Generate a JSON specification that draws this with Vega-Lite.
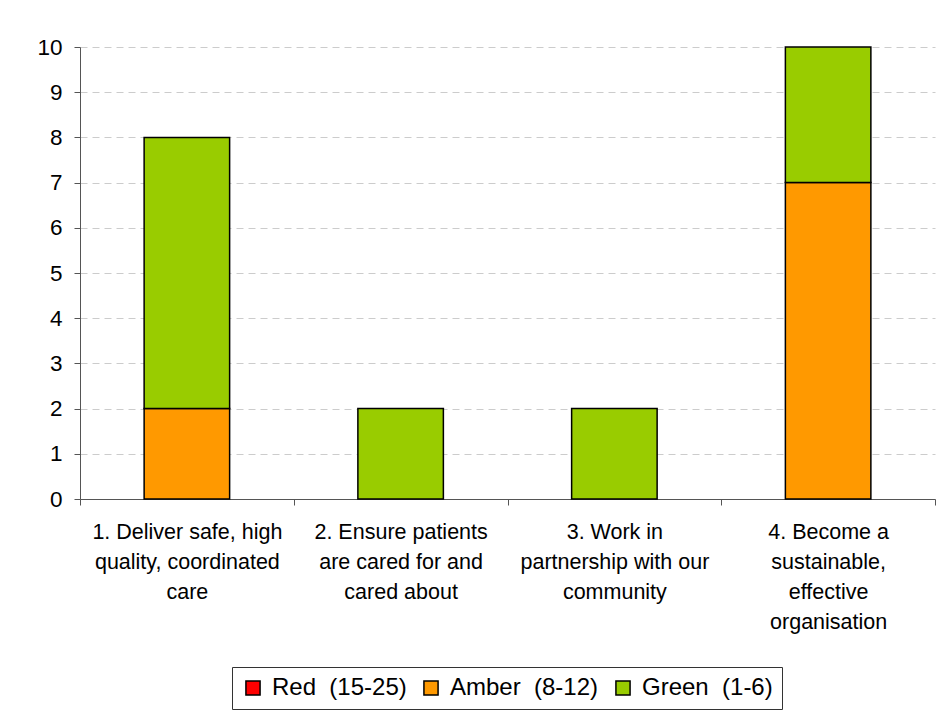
{
  "$schema": "https://vega.github.io/schema/vega-lite/v6.json",
  "width": 855,
  "height": 452,
  "autosize": {"type": "none"},
  "padding": {"left": 80, "top": 47, "right": 14, "bottom": 220},
  "background": "white",
  "config": {
    "font": "Liberation Sans",
    "view": {"stroke": null}
  },
  "data": {
    "values": [
      {"key": "1", "rating": "Red\u00a0\u00a0(15-25)", "ord": 0, "count": 0},
      {"key": "1", "rating": "Amber\u00a0\u00a0(8-12)", "ord": 1, "count": 2},
      {"key": "1", "rating": "Green\u00a0\u00a0(1-6)", "ord": 2, "count": 6},
      {"key": "2", "rating": "Red\u00a0\u00a0(15-25)", "ord": 0, "count": 0},
      {"key": "2", "rating": "Amber\u00a0\u00a0(8-12)", "ord": 1, "count": 0},
      {"key": "2", "rating": "Green\u00a0\u00a0(1-6)", "ord": 2, "count": 2},
      {"key": "3", "rating": "Red\u00a0\u00a0(15-25)", "ord": 0, "count": 0},
      {"key": "3", "rating": "Amber\u00a0\u00a0(8-12)", "ord": 1, "count": 0},
      {"key": "3", "rating": "Green\u00a0\u00a0(1-6)", "ord": 2, "count": 2},
      {"key": "4", "rating": "Red\u00a0\u00a0(15-25)", "ord": 0, "count": 0},
      {"key": "4", "rating": "Amber\u00a0\u00a0(8-12)", "ord": 1, "count": 7},
      {"key": "4", "rating": "Green\u00a0\u00a0(1-6)", "ord": 2, "count": 3}
    ]
  },
  "transform": [{"filter": "datum.count > 0"}],
  "mark": {"type": "bar", "width": {"band": 0.4}, "stroke": "black", "strokeWidth": 1.5},
  "encoding": {
    "x": {
      "field": "key",
      "type": "nominal",
      "scale": {"paddingInner": 0, "paddingOuter": 0},
      "axis": {
        "title": null,
        "labelAngle": 0,
        "labelExpr": "datum.value == '1' ? ['1. Deliver safe, high', 'quality, coordinated', 'care'] : datum.value == '2' ? ['2. Ensure patients', 'are cared for and', 'cared about'] : datum.value == '3' ? ['3. Work in', 'partnership with our', 'community'] : datum.value == '4' ? ['4. Become a', 'sustainable,', 'effective', 'organisation'] : ''",
        "labelFontSize": 21.5,
        "labelColor": "black",
        "labelLineHeight": 30,
        "labelPadding": 16,
        "labelBaseline": "top",
        "labelLimit": 300,
        "tickBand": "extent",
        "ticks": true,
        "tickSize": 6,
        "tickColor": "#555",
        "domainColor": "#555",
        "domainWidth": 1,
        "grid": false
      }
    },
    "y": {
      "field": "count",
      "type": "quantitative",
      "stack": "zero",
      "scale": {"domain": [0, 10], "nice": false},
      "axis": {
        "title": null,
        "values": [0, 1, 2, 3, 4, 5, 6, 7, 8, 9, 10],
        "labelFontSize": 22.5,
        "labelColor": "black",
        "labelPadding": 12,
        "tickSize": 6,
        "tickColor": "#555",
        "domainColor": "#555",
        "grid": true,
        "gridColor": "#cccccc",
        "gridDash": [7, 5],
        "gridWidth": 1
      }
    },
    "color": {
      "field": "rating",
      "type": "nominal",
      "scale": {
        "domain": ["Red\u00a0\u00a0(15-25)", "Amber\u00a0\u00a0(8-12)", "Green\u00a0\u00a0(1-6)"],
        "range": ["#FF0000", "#FF9900", "#99CC00"]
      },
      "legend": {
        "title": null,
        "orient": "none",
        "direction": "horizontal",
        "legendX": 152,
        "legendY": 620,
        "symbolType": "square",
        "symbolSize": 200,
        "symbolStrokeColor": "black",
        "symbolStrokeWidth": 1.5,
        "symbolOpacity": 1,
        "labelFontSize": 24,
        "labelColor": "black",
        "labelOffset": 7,
        "columnPadding": 12,
        "strokeColor": "#333",
        "padding": 9,
        "labelLimit": 300
      }
    },
    "order": {"field": "ord", "type": "quantitative"}
  }
}
